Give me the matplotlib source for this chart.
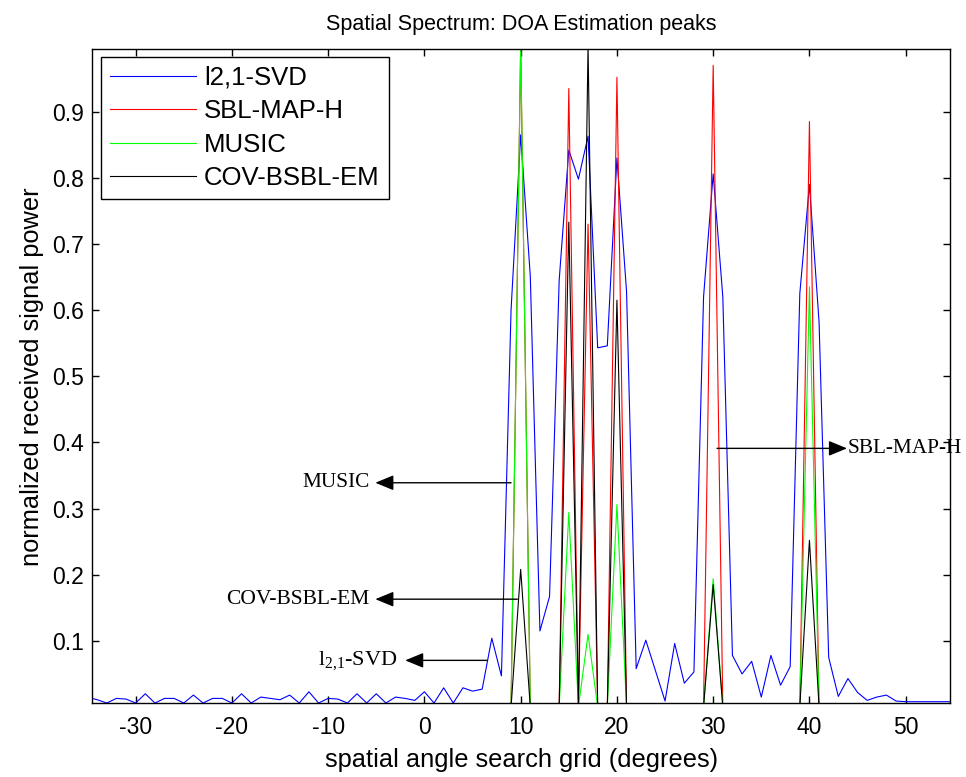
import numpy as np
import matplotlib
matplotlib.use("Agg")
import matplotlib.pyplot as plt

# ----------- data ---------------------------------------

angles = np.arange(-35, 56)  # search grid, 1 degree step

l21_svd = [
    0.015, 0.011, 0.006, 0.013, 0.012, 0.006, 0.020, 0.006, 0.013, 0.013,  # -35..-26
    0.006, 0.018, 0.006, 0.013, 0.013, 0.006, 0.020, 0.006, 0.015, 0.013,  # -25..-16
    0.011, 0.018, 0.006, 0.023, 0.006, 0.013, 0.012, 0.006, 0.020, 0.006,  # -15..-6
    0.020, 0.006, 0.015, 0.013, 0.010, 0.023, 0.006, 0.029, 0.006, 0.029,  # -5..4
    0.024, 0.027, 0.104, 0.047, 0.600, 0.865, 0.651, 0.115, 0.167, 0.645,  # 5..14
    0.842, 0.798, 0.863, 0.543, 0.546, 0.830, 0.628, 0.058, 0.101, 0.055,  # 15..24
    0.009, 0.096, 0.036, 0.053, 0.620, 0.806, 0.620, 0.078, 0.050, 0.069,  # 25..34
    0.015, 0.078, 0.033, 0.061, 0.625, 0.790, 0.582, 0.075, 0.016, 0.043,  # 35..44
    0.022, 0.010, 0.015, 0.018, 0.009, 0.008, 0.008, 0.008, 0.008, 0.008,  # 45..54
    0.008,                                                                 # 55
]

# sparse methods: zero everywhere except at these grid points
peak_angles = [10, 15, 17, 20, 30, 40]
sbl_map_h = [1.0, 0.935, 0.730, 0.952, 0.970, 0.885]
music = [1.0, 0.294, 0.110, 0.306, 0.194, 0.635]
cov_bsbl_em = [0.208, 0.733, 1.0, 0.615, 0.185, 0.252]

labels = ["l2,1-SVD", "SBL-MAP-H", "MUSIC", "COV-BSBL-EM"]
colors = ["b", "r", "#00ff00", "k"]


def spread(vals):
    out = np.zeros(len(angles))
    for a, v in zip(peak_angles, vals):
        out[angles == a] = v
    return out


series = [np.array(l21_svd), spread(sbl_map_h), spread(music), spread(cov_bsbl_em)]

# ----------- figure ----------------

plt.rcParams["font.family"] = ["Liberation Sans", "DejaVu Sans"]
plt.rcParams["mathtext.default"] = "regular"
plt.rcParams["axes.unicode_minus"] = False

fig = plt.figure(figsize=(9.66, 7.77), dpi=100)
ax = fig.add_axes([0.0956, 0.0952, 0.8878, 0.8411])

for y, c, lab in zip(series, colors, labels):
    ax.plot(angles, y, color=c, lw=0.8, label=lab)

ax.set_xlim(-34.5, 54.6)
ax.set_ylim(0.006, 0.994)
ax.set_xticks(np.arange(-30, 51, 10))
ax.set_yticks(np.arange(0.1, 0.91, 0.1))
ax.set_yticklabels(["%.1f" % v for v in np.arange(0.1, 0.91, 0.1)])
ax.tick_params(direction="in", top=True, right=True, length=5, width=1,
               labelsize=16.5)
ax.tick_params(axis="x", pad=9)
ax.tick_params(axis="y", pad=6)
for s in ax.spines.values():
    s.set_linewidth(1.0)

ax.set_title("Spatial Spectrum: DOA Estimation peaks", fontsize=15.5, pad=14)
ax.set_xlabel("spatial angle search grid (degrees)", fontsize=18.3, labelpad=7)
ax.set_ylabel("normalized received signal power", fontsize=18.3, labelpad=6)

leg = ax.legend(loc="upper left", bbox_to_anchor=(0.0101, 0.989),
                borderaxespad=0, fontsize=18.5, handlelength=3.35,
                handletextpad=0.31, labelspacing=0.37, borderpad=0.35,
                fancybox=False, framealpha=1, edgecolor="k")
leg.get_frame().set_linewidth(1.0)

# ----------- arrows + labels ----------------

arrow = dict(arrowstyle="-|>,head_length=0.8,head_width=0.33",
             mutation_scale=14, color="k", lw=1.0, shrinkA=0, shrinkB=0)
serif = ["Liberation Serif", "DejaVu Serif"]

ax.annotate("", xy=(-5.1, 0.339), xytext=(9.0, 0.339), arrowprops=arrow)
ax.text(-5.7, 0.339, "MUSIC", ha="right", va="center", fontsize=15.3,
        family=serif)

ax.annotate("", xy=(-5.1, 0.163), xytext=(9.65, 0.163), arrowprops=arrow)
ax.text(-5.7, 0.163, "COV-BSBL-EM", ha="right", va="center", fontsize=15.5,
        family=serif)

ax.annotate("", xy=(-2.0, 0.0705), xytext=(6.5, 0.0705), arrowprops=arrow)
ax.text(-2.8, 0.0705, "l$_{2{,}1}$-SVD", ha="right", va="center",
        fontsize=16, family=serif)

ax.annotate("", xy=(43.9, 0.391), xytext=(30.4, 0.391), arrowprops=arrow)
ax.text(44.0, 0.391, "SBL-MAP-H", ha="left", va="center", fontsize=15.3,
        family=serif, clip_on=False)

fig.savefig("out.png", dpi=100)
